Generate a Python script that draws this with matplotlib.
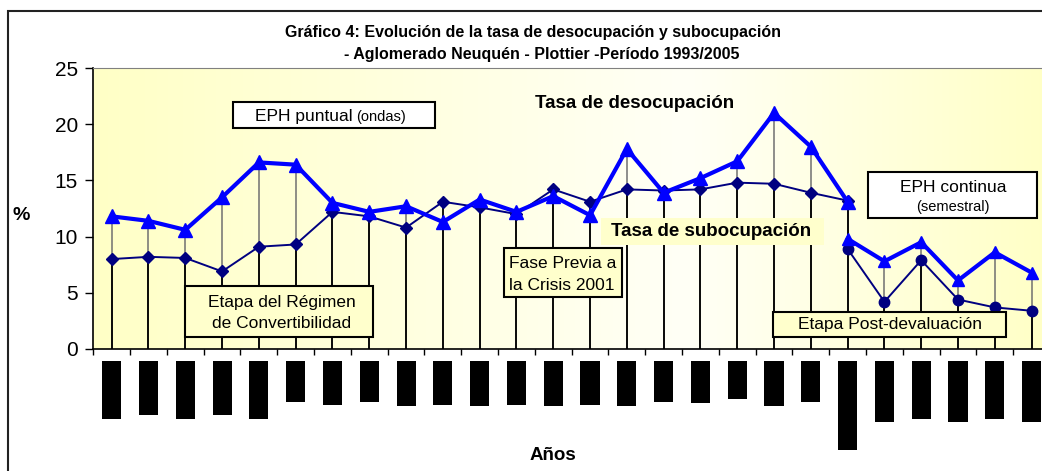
import numpy as np
import matplotlib
matplotlib.use("Agg")
import matplotlib.pyplot as plt
from matplotlib.patches import Rectangle
from matplotlib.colors import LinearSegmentedColormap

plt.rcParams['font.family'] = ['Liberation Sans', 'DejaVu Sans']

# --- data ---
n_periods = 26
desocupacion_ondas = [11.8, 11.4, 10.6, 13.5, 16.6, 16.4, 13.0, 12.2, 12.7, 11.3, 13.3,
                      12.2, 13.6, 11.9, 17.8, 13.9, 15.2, 16.7, 21.0, 18.0, 13.1]
subocupacion_ondas = [8.0, 8.2, 8.1, 6.9, 9.1, 9.3, 12.2, 11.8, 10.8, 13.1, 12.6,
                      12.0, 14.2, 13.1, 14.2, 14.1, 14.2, 14.8, 14.7, 13.9, 13.2]
desocupacion_cont = [9.8, 7.8, 9.5, 6.1, 8.6, 6.8]
subocupacion_cont = [8.9, 4.2, 7.9, 4.4, 3.7, 3.4]
# the period labels came out as solid black blocks; their depth in pixels
label_blocks = [57.7, 53.7, 57.7, 53.7, 57.7, 41, 43.7, 41, 44.7, 43.7, 44.7, 43.7, 44.7,
                43.7, 44.7, 41, 42, 37.7, 44.7, 41, 88.7, 60.7, 57.7, 60.7, 57.7, 60.7]

W, H = 1042, 471
fig = plt.figure(figsize=(W / 100, H / 100), dpi=100)


def fx(px):
    return px / W


def fy(py):
    return 1 - py / H


# chart area border (runs past the right and bottom edges)
fig.patches.append(Rectangle((fx(8), -0.2), 1.2, fy(11) + 0.2, transform=fig.transFigure,
                             fill=False, edgecolor='#222222', lw=1.5))

left, right, top, bottom = 93.3, 1050, 68, 349
ax = fig.add_axes([fx(left), fy(bottom), (right - left) / W, (bottom - top) / H])

x_ondas = np.arange(len(desocupacion_ondas))
x_cont = np.arange(n_periods - len(desocupacion_cont), n_periods)

# background gradient of the plot area
cmap = LinearSegmentedColormap.from_list('bg', [(0, '#ffffc6'), (0.62, '#fffff6'), (1, '#ffffc6')])
grad = np.linspace(0, 1, 256).reshape(1, -1)
ax.imshow(grad, cmap=cmap, aspect='auto', extent=(-0.5, n_periods - 0.5, 0, 25), zorder=0)

# drop lines
deso_all = np.array(desocupacion_ondas[:-1] + [max(desocupacion_ondas[-1], desocupacion_cont[0])] + desocupacion_cont[1:])
sub_all = np.array(subocupacion_ondas + subocupacion_cont[1:])
xs = np.arange(n_periods)
ax.vlines(xs, 0, deso_all, color='#707070', lw=1.1, zorder=1)
ax.vlines(xs, 0, sub_all, color='black', lw=1.3, zorder=1)

ax.plot(x_ondas, subocupacion_ondas, color='#000080', lw=1.4, marker='D', ms=6.5, zorder=3)
ax.plot(x_ondas, desocupacion_ondas, color='#0000ff', lw=3, marker='^', ms=9.5, zorder=4)
ax.plot(x_cont, subocupacion_cont, color='#000080', lw=1.4, marker='o', ms=7.5, zorder=3)
ax.plot(x_cont, desocupacion_cont, color='#0000ff', lw=3, marker='^', ms=8, zorder=4)

ax.set_xlim(-0.5, n_periods - 0.5)
ax.set_ylim(0, 25)
ax.set_yticks([0, 5, 10, 15, 20, 25])
ax.set_xticks(np.arange(-0.5, n_periods, 1))
ax.set_xticklabels([])
ax.tick_params(axis='y', direction='out', length=6, width=1, labelsize=15, pad=5)
ax.tick_params(axis='x', direction='out', length=4, width=1)
for s in ['left', 'bottom']:
    ax.spines[s].set_color('black')
    ax.spines[s].set_linewidth(1.2)
ax.spines['top'].set_color('#808080')
ax.spines['right'].set_visible(False)

# label blocks under the axis
axl = fig.add_axes([fx(left), fy(461), (right - left) / W, 100 / H], sharex=ax)
axl.bar(xs, label_blocks, width=0.52, color='black')
axl.set_ylim(100, 0)
axl.axis('off')
ax.set_xlim(-0.5, n_periods - 0.5)

# titles
fig.text(fx(533), fy(33), 'Gráfico 4: Evolución de la tasa de desocupación y subocupación',
         ha='center', va='center', fontsize=11.5, fontweight='bold')
fig.text(fx(542), fy(55), '- Aglomerado Neuquén - Plottier -Período 1993/2005',
         ha='center', va='center', fontsize=11.5, fontweight='bold')
fig.text(fx(21), fy(215), '%', ha='center', va='center', fontsize=14, fontweight='bold')
fig.text(fx(553), fy(455), 'Años', ha='center', va='center', fontsize=13.5, fontweight='bold')


def box(x0, y0, x1, y1, fc, ec='black'):
    fig.patches.append(Rectangle((fx(x0), fy(y1)), fx(x1) - fx(x0), fy(y0) - fy(y1),
                                 transform=fig.transFigure, facecolor=fc,
                                 edgecolor=ec if ec else 'none', lw=1.5, zorder=5))


FS = 12.5
box(233, 102, 435, 128, 'white')
fig.text(fx(353), fy(116), 'EPH puntual', ha='right', va='center', fontsize=FS, zorder=6)
fig.text(fx(356), fy(117), '(ondas)', ha='left', va='center', fontsize=10.5, zorder=6)

fig.text(fx(635), fy(104), 'Tasa de desocupación', ha='center', va='center',
         fontsize=13.5, fontweight='bold', zorder=6)

box(868, 172, 1037, 218, 'white')
fig.text(fx(953), fy(187), 'EPH continua', ha='center', va='center', fontsize=FS, zorder=6)
fig.text(fx(953), fy(207), '(semestral)', ha='center', va='center', fontsize=10.5, zorder=6)

box(601, 218, 824, 245, '#ffffcc', ec=None)
fig.text(fx(711), fy(231), 'Tasa de subocupación', ha='center', va='center',
         fontsize=13.5, fontweight='bold', zorder=6)

box(504, 248, 622, 297, '#ffffcc')
fig.text(fx(509), fy(263), 'Fase Previa a', ha='left', va='center', fontsize=FS, zorder=6)
fig.text(fx(509), fy(285), 'la Crisis 2001', ha='left', va='center', fontsize=FS, zorder=6)

box(185, 286, 373, 337, '#ffffcc')
fig.text(fx(282), fy(302), 'Etapa del Régimen', ha='center', va='center', fontsize=FS, zorder=6)
fig.text(fx(282), fy(323), 'de Convertibilidad', ha='center', va='center', fontsize=FS, zorder=6)

box(773, 312, 1006, 337, '#ffffcc')
fig.text(fx(890), fy(325), 'Etapa Post-devaluación', ha='center', va='center', fontsize=FS, zorder=6)

fig.savefig('out.png', dpi=100)
